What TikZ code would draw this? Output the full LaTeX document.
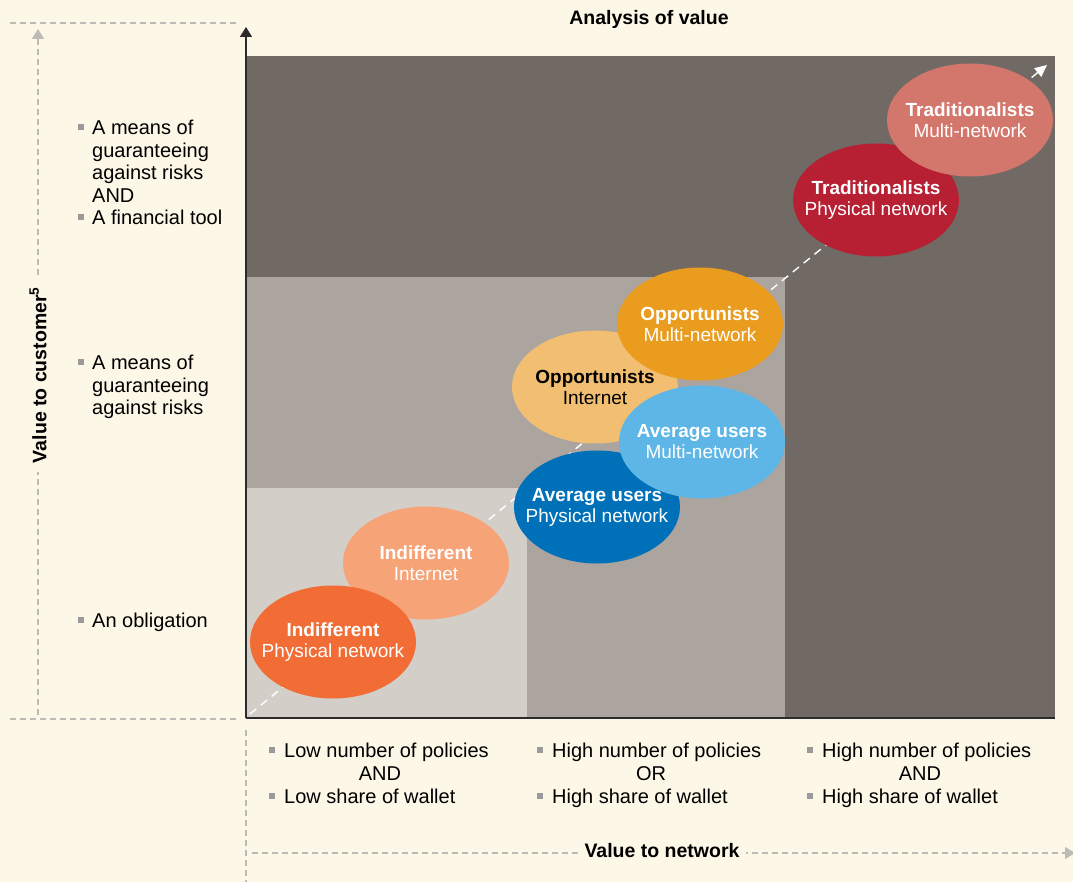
\documentclass[tikz,border=0pt]{standalone}
\usepackage{fontspec}
\setmainfont{Liberation Sans}
\usetikzlibrary{arrows.meta,shapes.geometric}
\definecolor{bg}{HTML}{FDF7E7}
\definecolor{darkbox}{HTML}{716963}
\definecolor{midbox}{HTML}{ABA49F}
\definecolor{lightbox}{HTML}{D3CEC8}
\definecolor{dashgray}{HTML}{BDBBB5}
\definecolor{bulgray}{HTML}{9A9A9A}
\definecolor{axisblack}{HTML}{2B2B2B}
\definecolor{indphys}{HTML}{F26D35}
\definecolor{indint}{HTML}{F6A377}
\definecolor{avgphys}{HTML}{0071B8}
\definecolor{avgmulti}{HTML}{5DB6E6}
\definecolor{oppint}{HTML}{F2BF72}
\definecolor{oppmulti}{HTML}{E99C1E}
\definecolor{tradphys}{HTML}{B72033}
\definecolor{tradmulti}{HTML}{D3766B}
\begin{document}
\begin{tikzpicture}[x=1pt,y=-1pt,
  head/.style={font=\fontsize{19.5}{22}\selectfont\bfseries, inner sep=0pt, text=black},
  txt/.style={font=\fontsize{20}{22.9}\selectfont, inner sep=0pt, text=black, align=left},
  ctxt/.style={font=\fontsize{20}{23}\selectfont, inner sep=0pt, text=black},
  bul/.style={fill=bulgray, minimum size=6pt, inner sep=0pt},
  blob/.style={ellipse, minimum width=166pt, minimum height=113pt, inner sep=0pt},
  btxt/.style={font=\fontsize{19}{21}\selectfont, inner sep=0pt, align=center, text=white},
  gdash/.style={draw=dashgray, line width=1.3pt, dash pattern=on 6pt off 4pt},
  gtip/.style={-{Triangle[length=10pt,width=12pt,fill=dashgray]}},
]
\useasboundingbox[fill=bg] (0,0) rectangle (1073,882);

% regions
\fill[darkbox] (246,56) rectangle (1055,718);
\fill[midbox] (246,277) rectangle (785,718);
\fill[lightbox] (246,488) rectangle (527,718);

% diagonal dashed arrow
\coordinate (dstart) at (250,714);
\coordinate (dend) at (1047,65);
\draw[white, line width=1.4pt, dash pattern=on 8pt off 6pt, -{Triangle[length=12pt,width=11pt]}] (dstart) -- (dend);

% ellipses
\node[blob, fill=indint] (ii) at (426,563) {};
\node[btxt] (iiT) at (ii.center) {\textbf{Indifferent}\\Internet};
\node[blob, fill=indphys] (ip) at (333,642) {};
\node[btxt] (ipT) at (ip.center) {\textbf{Indifferent}\\Physical network};
\node[blob, fill=oppint] (oi) at (595,387) {};
\node[btxt, text=black] (oiT) at (oi.center) {\textbf{Opportunists}\\Internet};
\node[blob, fill=avgphys] (ap) at (597,507) {};
\node[btxt] (apT) at (ap.center) {\textbf{Average users}\\Physical network};
\node[blob, fill=avgmulti] (am) at (702,442) {};
\node[btxt] (amT) at (am.center) {\textbf{Average users}\\Multi-network};
\node[blob, fill=oppmulti] (om) at (700,324) {};
\node[btxt] (omT) at (om.center) {\textbf{Opportunists}\\Multi-network};
\node[blob, fill=tradphys] (tp) at (876,200) {};
\node[btxt] (tpT) at (tp.center) {\textbf{Traditionalists}\\Physical network};
\node[blob, fill=tradmulti] (tm) at (970,120) {};
\node[btxt] (tmT) at (tm.center) {\textbf{Traditionalists}\\Multi-network};

% axes
\coordinate (origin) at (246,718);
\coordinate (ytop) at (246,27);
\coordinate (xend) at (1055,718);
\draw[axisblack, line width=1.5pt, -{Triangle[length=10pt,width=12pt]}] (origin) -- (ytop);
\draw[axisblack, line width=2pt] (origin) -- (xend);

% gray dashed guides
\coordinate (g1a) at (10,23);  \coordinate (g1b) at (240,23);
\coordinate (g2a) at (38,715); \coordinate (g2b) at (38,29);
\coordinate (g3a) at (10,719); \coordinate (g3b) at (240,719);
\coordinate (g4a) at (246,730); \coordinate (g4b) at (246,882);
\coordinate (g5a) at (252,853); \coordinate (g5b) at (1075,853);
\draw[gdash] (g1a) -- (g1b);
\draw[gdash, gtip] (g2a) -- (g2b);
\draw[gdash] (g3a) -- (g3b);
\draw[gdash] (g4a) -- (g4b);
\draw[gdash, gtip] (g5a) -- (g5b);

% axis titles
\node[head] (title) at (649,19) {Analysis of value};
\node[head, fill=bg, inner xsep=7pt, inner ysep=2pt] (xlab) at (662,851) {Value to network};
\node[head, fill=bg, rotate=90, inner xsep=9pt, inner ysep=2pt] (ylab) at (38,375) {Value to customer\textsuperscript{5}};

% left bullets
\node[bul] (lb1) at (81,127) {};
\node[txt, anchor=north west] (lt1) at (92,119.5) {A means of\\guaranteeing\\against risks\\AND};
\node[bul] (lb2) at (81,217) {};
\node[txt, anchor=base west] (lt2) at (92,224.5) {A financial tool};
\node[bul] (lb3) at (81,362) {};
\node[txt, anchor=north west] (lt3) at (92,354.5) {A means of\\guaranteeing\\against risks};
\node[bul] (lb4) at (81,620) {};
\node[txt, anchor=base west] (lt4) at (92,627.5) {An obligation};

% bottom bullets
\node[bul] (b11) at (272,750) {};
\node[ctxt, anchor=base west] (t11) at (284,757.5) {Low number of policies};
\node[ctxt, anchor=base] (t12) at (380,780.5) {AND};
\node[bul] (b13) at (272,796) {};
\node[ctxt, anchor=base west] (t13) at (284,803.5) {Low share of wallet};

\node[bul] (b21) at (540,750) {};
\node[ctxt, anchor=base west] (t21) at (552,757.5) {High number of policies};
\node[ctxt, anchor=base] (t22) at (651,780.5) {OR};
\node[bul] (b23) at (540,796) {};
\node[ctxt, anchor=base west] (t23) at (552,803.5) {High share of wallet};

\node[bul] (b31) at (810,750) {};
\node[ctxt, anchor=base west] (t31) at (822,757.5) {High number of policies};
\node[ctxt, anchor=base] (t32) at (920,780.5) {AND};
\node[bul] (b33) at (810,796) {};
\node[ctxt, anchor=base west] (t33) at (822,803.5) {High share of wallet};
\end{tikzpicture}
\end{document}
